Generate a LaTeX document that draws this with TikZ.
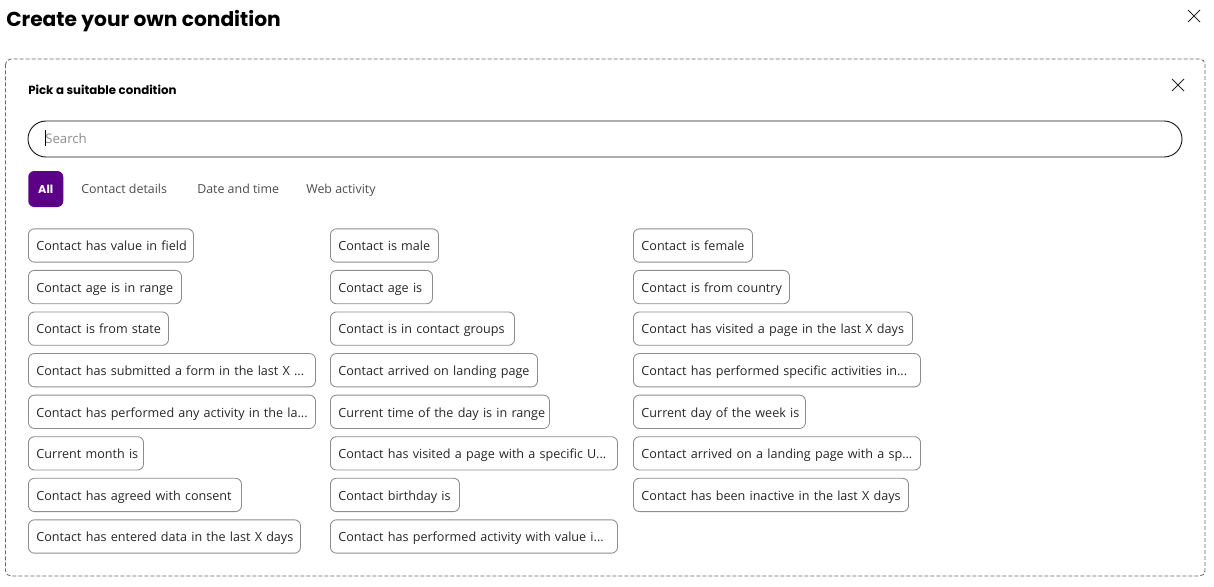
\documentclass[tikz,border=0pt]{standalone}
\usepackage{fontspec}
\setmainfont{Open Sans}
\newfontfamily\headfont{Poppins}
\newcommand{\cutoff}{...}
\tikzset{
  chip/.style={draw=black!45,line width=0.65pt,rounded corners=4.5pt,anchor=west,
    minimum height=25pt,inner xsep=6pt,inner ysep=0pt,text height=9pt,text depth=1pt,
    align=left,font=\fontsize{9.45}{11}\selectfont,text=black!85},
  tab/.style={anchor=west,inner sep=0pt,text height=9pt,text depth=1pt,font=\fontsize{9.3}{11}\selectfont,text=black!70},
  closex/.style={line width=0.6pt,black!85}
}
\definecolor{allpurple}{HTML}{5C0087}
\begin{document}
\begin{tikzpicture}[x=0.75pt,y=-0.75pt]
  \useasboundingbox (0,0) rectangle (1214,586);
  \node[anchor=west,inner sep=0pt,text height=12.5pt,text depth=1.5pt,font=\headfont\bfseries\fontsize{15.15}{18}\selectfont] (title) at (6,19) {Create your own condition};
  \draw[closex] (1188,10) -- (1200,22) (1200,10) -- (1188,22);
  \draw[black!60,dash pattern=on 3pt off 1.5pt,line width=0.6pt,rounded corners=4pt] (5.5,59) rectangle (1205,576);
  \node[anchor=west,inner sep=0pt,text height=8pt,text depth=1pt,font=\headfont\bfseries\fontsize{8.85}{10}\selectfont] (pick) at (28,89.5) {Pick a suitable condition};
  \draw[closex] (1172,79) -- (1184,91) (1184,79) -- (1172,91);
  \draw[line width=0.7pt,black!90,rounded corners=13.5pt] (28,121) rectangle (1182,157);
  \node[anchor=west,inner sep=0pt,text height=9pt,text depth=1pt,text=black!45,font=\fontsize{9.9}{11}\selectfont] (search) at (45,138.5) {Search};
  \draw[line width=0.6pt] (45,130) -- (45,146);
  \node[fill=allpurple,rounded corners=4.5pt,anchor=west,minimum width=26.25pt,minimum height=27pt,inner sep=0pt,
    text=white,font=\headfont\bfseries\fontsize{8.5}{10}\selectfont] (all) at (28,189) {All};
  \node[tab] (details) at (81,188.5) {Contact details};
  \node[tab] (datetime) at (197,188.5) {Date and time};
  \node[tab] (web) at (306,188.5) {Web activity};
  % column, row, width, text
  \foreach \x/\r/\w/\txt in {
    28/1/166/Contact has value in field,
    28/2/154/Contact age is in range,
    28/3/141/Contact is from state,
    28/4/288/Contact has submitted a form in the last X \cutoff,
    28/5/288/Contact has performed any activity in the la\cutoff,
    28/6/116/Current month is,
    28/7/214/Contact has agreed with consent,
    28/8/273/Contact has entered data in the last X days,
    330/1/109/Contact is male,
    330/2/103/Contact age is,
    330/3/185/Contact is in contact groups,
    330/4/208/Contact arrived on landing page,
    330/5/220/Current time of the day is in range,
    330/6/288/Contact has visited a page with a specific U\cutoff,
    330/7/130/Contact birthday is,
    330/8/288/Contact has performed activity with value i\cutoff,
    633/1/120/Contact is female,
    633/2/157/Contact is from country,
    633/3/280/Contact has visited a page in the last X days,
    633/4/288/Contact has performed specific activities in\cutoff,
    633/5/173/Current day of the week is,
    633/6/288/Contact arrived on a landing page with a sp\cutoff,
    633/7/276/Contact has been inactive in the last X days
  }{
    \node[chip,minimum width=\w*0.75pt-0.7pt,text width=\w*0.75pt-12.7pt] (chip-\x-\r) at (\x,{245.5+41.57*(\r-1)}) {\mbox{\txt}};
  }
\end{tikzpicture}
\end{document}
